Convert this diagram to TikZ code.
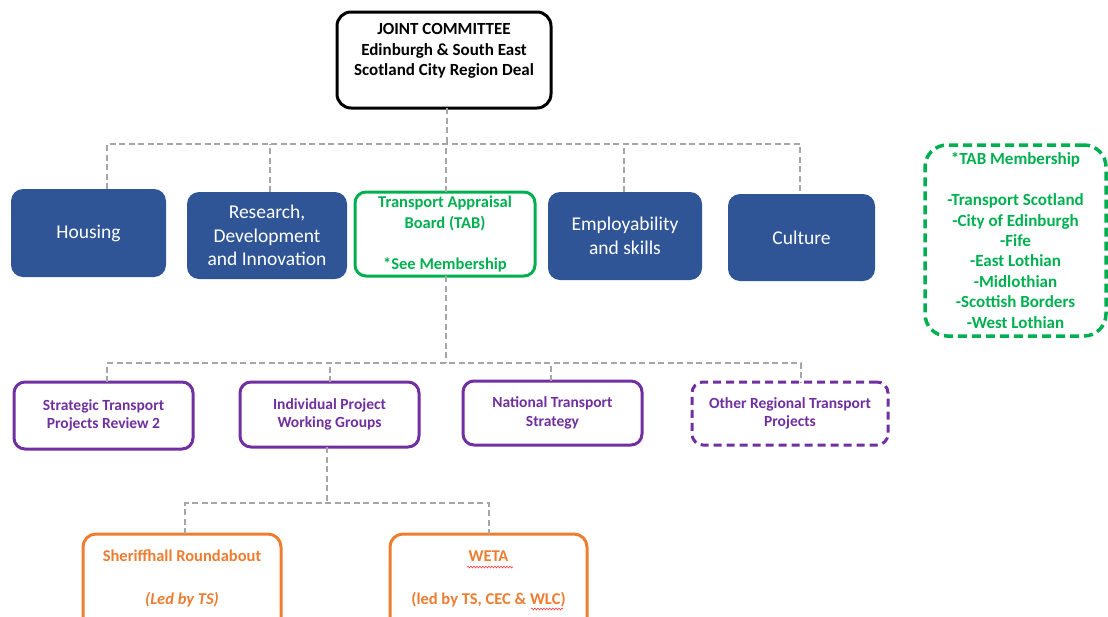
\documentclass[tikz,border=0pt]{standalone}
\usepackage{fontspec}
\setmainfont{Carlito}
\usetikzlibrary{decorations.pathmorphing}
\definecolor{blu}{HTML}{2F5597}
\definecolor{grn}{HTML}{00B050}
\definecolor{pur}{HTML}{7030A0}
\definecolor{org}{HTML}{ED7D31}
\definecolor{gry}{HTML}{A6A6A6}
\begin{document}
\begin{tikzpicture}[x=1pt,y=-1pt,
  every node/.style={inner sep=0pt,outer sep=0pt,align=center},
  conn/.style={draw=gry,line width=1.3pt,dash pattern=on 6pt off 3.5pt},
  bluebox/.style={fill=blu,rounded corners=12pt,text=white,font=\fontsize{19.5}{23.5}\selectfont},
  jcbox/.style={draw=black,line width=3pt,rounded corners=14pt},
  jctxt/.style={font=\bfseries\fontsize{17}{20.5}\selectfont},
  tabbox/.style={draw=grn,line width=3pt,rounded corners=11pt,text=grn,font=\bfseries\fontsize{16.5}{20.5}\selectfont},
  membox/.style={draw=grn,line width=3.5pt,dash pattern=on 9pt off 5pt,rounded corners=22pt,text=grn,font=\bfseries\fontsize{17}{20.4}\selectfont},
  purbox/.style={draw=pur,line width=3pt,rounded corners=11pt,text=pur,font=\bfseries\fontsize{15.5}{18.5}\selectfont},
  purdash/.style={purbox,dash pattern=on 8pt off 5pt},
  orgbox/.style={draw=org,line width=3pt,rounded corners=13pt},
  orgtxt/.style={text=org,font=\bfseries\fontsize{16.5}{21.5}\selectfont},
  squig/.style={draw=red!75,line width=0.6pt,decorate,decoration={snake,amplitude=0.9pt,segment length=3pt}}
]
\fill[white] (0,0) rectangle (1108,616);
\useasboundingbox (0,0) rectangle (1108,616);

% top
\node[jcbox,minimum width=214,minimum height=96] (jc) at (444,60) {};
\node[jctxt] (jct) at (444,51) {JOINT COMMITTEE\\Edinburgh \& South East\\Scotland City Region Deal};

% second row
\node[bluebox,minimum width=155,minimum height=88] (housing) at (88.5,233) {Housing};
\node[bluebox,minimum width=160,minimum height=87] (research) at (267,235.5) {Research,\\Development\\and Innovation};
\node[tabbox,minimum width=180,minimum height=84] (tab) at (445,234) {Transport Appraisal\\Board (TAB)\\~\\*See Membership};
\node[bluebox,minimum width=154,minimum height=88] (employ) at (625,236) {Employability\\and skills};
\node[bluebox,minimum width=147,minimum height=87] (culture) at (801.5,237.5) {Culture};

\node[membox,minimum width=181,minimum height=191] (member) at (1015.5,240.5)
  {*TAB Membership\\~\\-Transport Scotland\\-City of Edinburgh\\-Fife\\-East Lothian\\-Midlothian\\-Scottish Borders\\-West Lothian};

% third row
\node[purbox,minimum width=179,minimum height=67] (stpr) at (103.5,415.5) {Strategic Transport\\Projects Review 2};
\node[purbox,minimum width=179,minimum height=65] (ipwg) at (329.5,414.5) {Individual Project\\Working Groups};
\node[purbox,minimum width=179,minimum height=64] (nts) at (552.5,413) {National Transport\\Strategy};
\node[purdash,minimum width=196,minimum height=63] (ortp) at (790,413.5) {Other Regional Transport\\Projects};

% fourth row
\node[orgbox,minimum width=198,minimum height=106] (sher) at (182,587) {};
\node[orgtxt] (shert) at (182,578.5) {Sheriffhall Roundabout\\~\\\textit{(Led by TS)}};
\node[orgbox,minimum width=197,minimum height=106] (weta) at (488.5,587) {};
\node[orgtxt] (wetat) at (488.5,578.5) {WETA\\~\\(led by TS, CEC \& WLC)};
\draw[squig] (467,567) -- (513,567);
\draw[squig] (531,609) -- (563,609);

% connectors level 1
\coordinate (b1) at (447,144);
\draw[conn] ([xshift=3pt]jc.south) -- (b1);
\coordinate (hd) at ([xshift=18.5pt]housing.north);
\coordinate (rd) at ([xshift=3pt]research.north);
\coordinate (td) at ([xshift=1pt]tab.north);
\coordinate (ed) at ([xshift=-1pt]employ.north);
\coordinate (cd) at ([xshift=-1.5pt]culture.north);
\draw[conn] (hd) -- (hd |- b1) -- (cd |- b1) -- (cd);
\draw[conn] (rd) -- (rd |- b1);
\draw[conn] (td) -- (td |- b1);
\draw[conn] (ed) -- (ed |- b1);

% connectors level 2
\coordinate (tb) at ([xshift=1pt]tab.south);
\coordinate (b2) at (446,363);
\draw[conn] (tb) -- (b2);
\coordinate (sd) at ([xshift=3.5pt]stpr.north);
\coordinate (id) at ([xshift=0.5pt]ipwg.north);
\coordinate (nd) at ([xshift=-1.5pt]nts.north);
\coordinate (od) at ([xshift=11pt]ortp.north);
\draw[conn] (sd) -- (sd |- b2) -- (od |- b2) -- (od);
\draw[conn] (id) -- (id |- b2);
\draw[conn] (nd) -- (nd |- b2);

% connectors level 3
\coordinate (ib) at ([xshift=-2.5pt]ipwg.south);
\coordinate (b3) at (327,503);
\draw[conn] (ib) -- (b3);
\coordinate (shd) at ([xshift=3pt]sher.north);
\coordinate (wd) at ([xshift=0.5pt]weta.north);
\draw[conn] (shd) -- (shd |- b3) -- (wd |- b3) -- (wd);
\end{tikzpicture}
\end{document}
